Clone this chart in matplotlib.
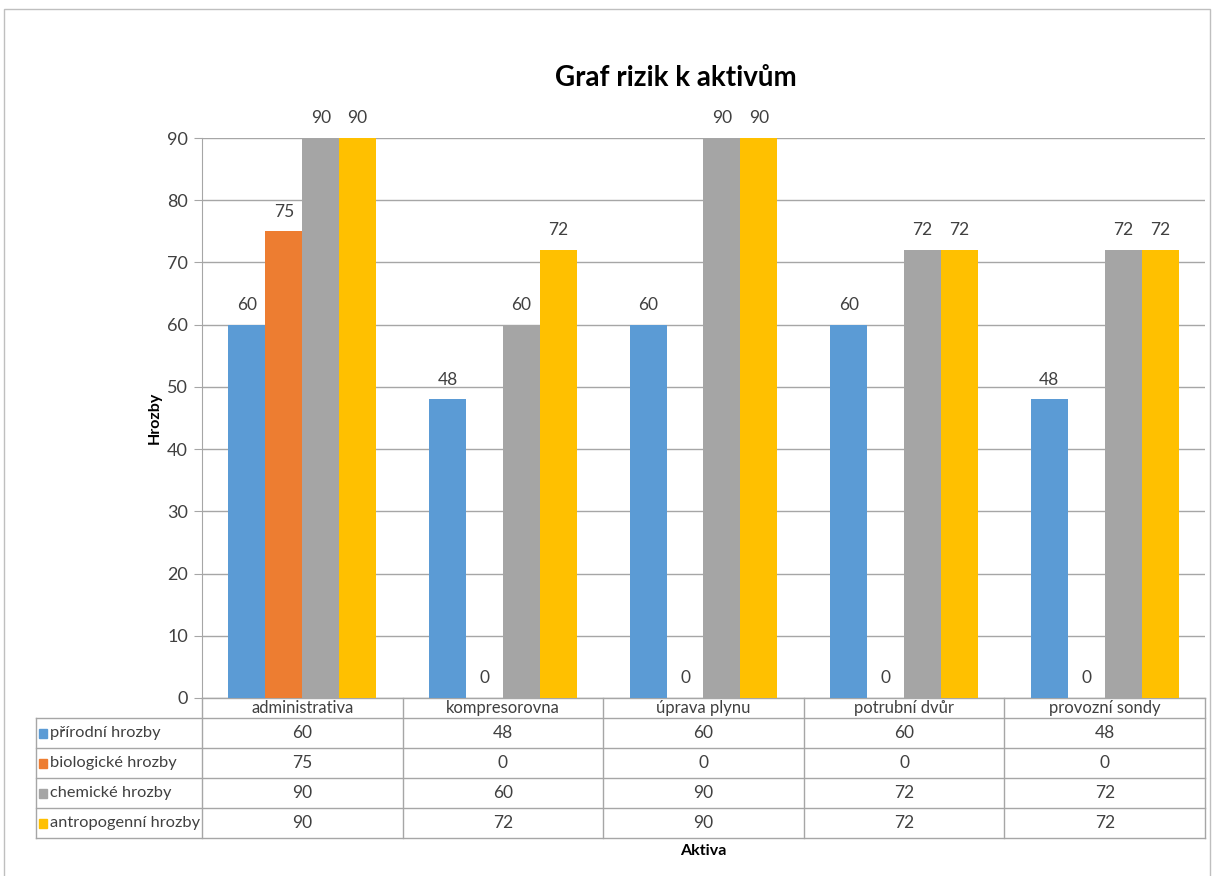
import numpy as np
import matplotlib
matplotlib.use('Agg')
import matplotlib.pyplot as plt
import matplotlib.transforms as mtransforms

plt.rcParams['font.family'] = ['Lato', 'DejaVu Sans']

# data
categories = ['administrativa', 'kompresorovna', 'úprava plynu', 'potrubní dvůr', 'provozní sondy']
series_names = ['přírodní hrozby', 'biologické hrozby', 'chemické hrozby', 'antropogenní hrozby']
prirodni = [60, 48, 60, 60, 48]
biologicke = [75, 0, 0, 0, 0]
chemicke = [90, 60, 90, 72, 72]
antropogenni = [90, 72, 90, 72, 72]
yticks = [0, 10, 20, 30, 40, 50, 60, 70, 80, 90]

series = [prirodni, biologicke, chemicke, antropogenni]
colors = ['#5B9BD5', '#ED7D31', '#A5A5A5', '#FFC000']
txt = '#404040'
line_col = '#A6A6A6'

W, H = 1213, 876
fig = plt.figure(figsize=(W / 100, H / 100), dpi=100)
ax_l, ax_r, ax_t, ax_b = 202, 1205, 138, 698
ax = fig.add_axes([ax_l / W, 1 - ax_b / H, (ax_r - ax_l) / W, (ax_b - ax_t) / H])

# outer border of the chart area
fig.add_artist(plt.Rectangle((4 / W, -0.1), (1206 / W), 1 - 9 / H + 0.1, fill=False,
                             edgecolor='#BFBFBF', lw=1, transform=fig.transFigure))

x = np.arange(len(categories))
bw = 0.184
for i, (vals, c) in enumerate(zip(series, colors)):
    pos = x + (i - 1.5) * bw
    ax.bar(pos, vals, bw, color=c, zorder=3)
    for p, v in zip(pos, vals):
        ax.text(p, v + 1.9, str(v), ha='center', va='bottom', fontsize=12.5, color=txt, zorder=4)

ax.set_xlim(-0.5, len(categories) - 0.5)
ax.set_ylim(0, 90)
ax.set_yticks(yticks)
ax.set_xticks([])
ax.yaxis.grid(True, color=line_col, lw=1)
ax.set_axisbelow(True)
for s in ['top', 'right', 'bottom']:
    ax.spines[s].set_visible(False)
ax.spines['left'].set_color(line_col)
ax.tick_params(axis='y', length=6, color=line_col, labelsize=13, labelcolor=txt, pad=4)
ax.set_ylabel('Hrozby', fontsize=11.5, fontweight='bold', labelpad=4)

fig.text(676 / W, 1 - 78 / H, 'Graf rizik k aktivům', ha='center', va='center',
         fontsize=20, fontweight='bold', color='black')

# data table below the chart
trans = mtransforms.blended_transform_factory(ax.transData, fig.transFigure)
row_y = [698, 718, 748, 778, 808, 838]

def fy(py):
    return 1 - py / H

tbl_left = 36
xmin_d = -0.5
xmax_d = len(categories) - 0.5
left_d = xmin_d - (ax_l - tbl_left) / (ax_r - ax_l) * len(categories)

# horizontal lines
ax.plot([xmin_d, xmax_d], [fy(row_y[0])] * 2, color=line_col, lw=1, transform=trans, clip_on=False)
for py in row_y[1:]:
    ax.plot([left_d, xmax_d], [fy(py)] * 2, color=line_col, lw=1, transform=trans, clip_on=False)
# vertical lines
for k in range(len(categories) + 1):
    xd = k - 0.5
    ax.plot([xd, xd], [fy(row_y[0]), fy(row_y[-1])], color=line_col, lw=1, transform=trans, clip_on=False)
ax.plot([left_d, left_d], [fy(row_y[1]), fy(row_y[-1])], color=line_col, lw=1, transform=trans, clip_on=False)

# header
for k, cat in enumerate(categories):
    ax.text(k, fy((row_y[0] + row_y[1]) / 2), cat, ha='center', va='center', fontsize=12,
            color=txt, transform=trans)
# rows
for r, (name, vals, c) in enumerate(zip(series_names, series, colors)):
    yc = fy((row_y[r + 1] + row_y[r + 2]) / 2)
    fig.patches.append(plt.Rectangle(((tbl_left + 3) / W, yc - 4.5 / H), 8 / W, 9 / H,
                                     color=c, transform=fig.transFigure, figure=fig))
    fig.text((tbl_left + 14) / W, yc, name, ha='left', va='center', fontsize=11.8, color=txt)
    for k, v in enumerate(vals):
        ax.text(k, yc, str(v), ha='center', va='center', fontsize=12.5, color=txt, transform=trans)

fig.text(ax_l / W + (ax_r - ax_l) / W / 2 - 0.0, 1 - 851 / H, 'Aktiva', ha='center', va='center',
         fontsize=11.5, fontweight='bold', color='black')

fig.savefig('out.png', dpi=100, facecolor='white')
